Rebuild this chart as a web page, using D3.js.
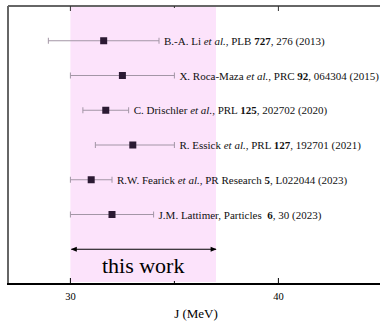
<!DOCTYPE html>
<html>
<head>
<meta charset="utf-8">
<script src="https://cdn.jsdelivr.net/npm/d3@7"></script>
<style>
  body { margin: 0; background: #fff; }
  text { font-family: "Liberation Serif", "Times New Roman", serif; }
</style>
</head>
<body>
<div id="chart"></div>
<script>
// J values (MeV) with lower / upper bounds
const refs = [
  { pre: "B.-A. Li ", it: "et al.", mid: ", PLB ", bold: "727", post: ", 276 (2013)" },
  { pre: "X. Roca-Maza ", it: "et al.", mid: ", PRC ", bold: "92", post: ", 064304 (2015)" },
  { pre: "C. Drischler ", it: "et al.", mid: ", PRL ", bold: "125", post: ", 202702 (2020)" },
  { pre: "R. Essick ", it: "et al.", mid: ", PRL ", bold: "127", post: ", 192701 (2021)" },
  { pre: "R.W. Fearick ", it: "et al.", mid: ", PR Research ", bold: "5", post: ", L022044 (2023)" },
  { pre: "J.M. Lattimer, Particles \u00a0", it: "", mid: "", bold: "6", post: ", 30 (2023)" }
];
const jValues = [31.6, 32.5, 31.7, 33.0, 31.0, 32.0];
const jLow = [28.94, 30.0, 30.6, 31.2, 30.0, 30.0];
const jHigh = [34.26, 35.0, 32.8, 35.0, 32.0, 34.0];
const thisWork = [30, 37];
const majorTicks = [30, 40];
const minorTicks = [35];

const W = 380, H = 324;
const margin = { top: 6, left: 8, bottom: 40 };

const svg = d3.select("#chart").append("svg")
  .attr("width", W).attr("height", H);

const x = d3.scaleLinear().domain([27, 45]).range([margin.left, margin.left + 18 * 20.8]);
const y = d3.scaleLinear().domain([0, 8]).range([margin.top, H - margin.bottom]);

// band for this work
svg.append("rect")
  .attr("x", x(thisWork[0]))
  .attr("y", y(0))
  .attr("width", x(thisWork[1]) - x(thisWork[0]))
  .attr("height", y(8) - y(0) - 2)
  .attr("fill", "#fce3fb");

// frame
svg.append("line").attr("x1", margin.left).attr("x2", W).attr("y1", y(0)).attr("y2", y(0))
  .attr("stroke", "#666").attr("stroke-width", 2);
svg.append("line").attr("x1", margin.left).attr("x2", margin.left).attr("y1", y(0)).attr("y2", y(8))
  .attr("stroke", "#666").attr("stroke-width", 2);
svg.append("line").attr("x1", margin.left - 1).attr("x2", W).attr("y1", y(8)).attr("y2", y(8))
  .attr("stroke", "#000").attr("stroke-width", 2);

// ticks (inward, top and bottom)
majorTicks.concat(minorTicks).forEach(v => {
  const len = majorTicks.includes(v) ? 6 : 3;
  svg.append("line").attr("x1", x(v)).attr("x2", x(v))
    .attr("y1", y(8)).attr("y2", y(8) - len).attr("stroke", "#000");
  svg.append("line").attr("x1", x(v)).attr("x2", x(v))
    .attr("y1", y(0)).attr("y2", y(0) + len - 1).attr("stroke", "#333");
});
svg.selectAll(".tick-label").data(majorTicks).enter().append("text")
  .attr("x", d => x(d)).attr("y", y(8) + 16)
  .attr("text-anchor", "middle").attr("font-size", 10.5)
  .text(d => d);

svg.append("text").attr("x", (margin.left + W) / 2 + 2).attr("y", 318)
  .attr("text-anchor", "middle").attr("font-size", 13)
  .text("J (MeV)");

// error bars
const rows = svg.selectAll(".row").data(refs).enter().append("g")
  .attr("transform", (d, i) => `translate(0,${y(i + 1)})`);

rows.append("line")
  .attr("x1", (d, i) => x(jLow[i])).attr("x2", (d, i) => x(jHigh[i]))
  .attr("stroke", "#a396a6").attr("stroke-width", 1);
rows.append("line")
  .attr("x1", (d, i) => x(jLow[i])).attr("x2", (d, i) => x(jLow[i]))
  .attr("y1", -3).attr("y2", 3).attr("stroke", "#a396a6");
rows.append("line")
  .attr("x1", (d, i) => x(jHigh[i])).attr("x2", (d, i) => x(jHigh[i]))
  .attr("y1", -3).attr("y2", 3).attr("stroke", "#a396a6");
rows.append("rect")
  .attr("x", (d, i) => x(jValues[i]) - 3.5).attr("y", -3.5)
  .attr("width", 7).attr("height", 7)
  .attr("fill", "#2b1a33");

const labels = rows.append("text")
  .attr("x", (d, i) => x(jHigh[i]) + 5)
  .attr("y", 4)
  .attr("font-size", 11)
  .attr("fill", "#111");
labels.append("tspan").text(d => d.pre);
labels.append("tspan").attr("font-style", "italic").text(d => d.it);
labels.append("tspan").text(d => d.mid);
labels.append("tspan").attr("font-weight", "bold").text(d => d.bold);
labels.append("tspan").text(d => d.post);

// double arrow for this work
const defs = svg.append("defs");
defs.append("marker").attr("id", "head").attr("viewBox", "0 0 10 10")
  .attr("refX", 9).attr("refY", 5).attr("markerWidth", 10).attr("markerHeight", 6)
  .attr("markerUnits", "userSpaceOnUse")
  .attr("orient", "auto-start-reverse")
  .append("path").attr("d", "M0,1 L10,5 L0,9 Z").attr("fill", "#000");

svg.append("line")
  .attr("x1", x(thisWork[0]) + 1).attr("x2", x(thisWork[1]))
  .attr("y1", y(7)).attr("y2", y(7))
  .attr("stroke", "#000").attr("stroke-width", 1.2)
  .attr("marker-start", "url(#head)").attr("marker-end", "url(#head)");

svg.append("text")
  .attr("x", (x(thisWork[0]) + x(thisWork[1])) / 2)
  .attr("y", y(7) + 24)
  .attr("text-anchor", "middle").attr("font-size", 22)
  .text("this work");
</script>
</body>
</html>
